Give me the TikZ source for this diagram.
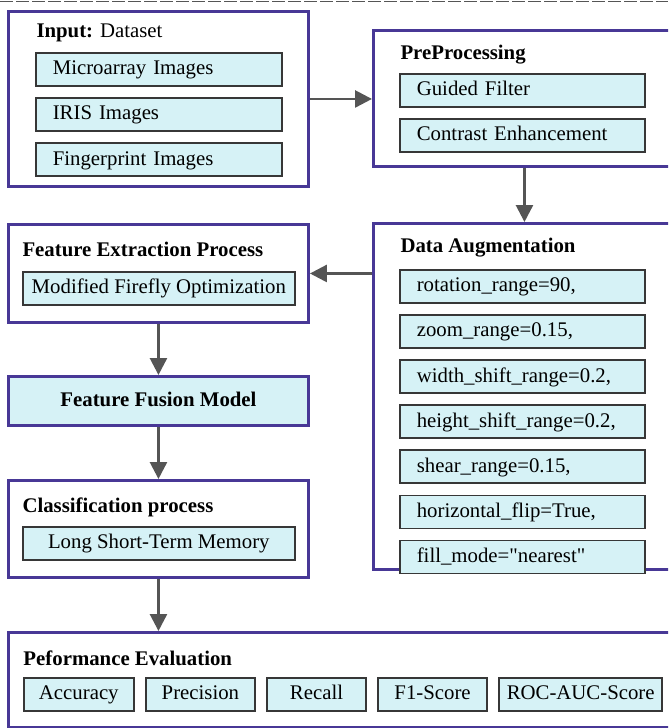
\documentclass[tikz,border=0pt]{standalone}
\usepackage{fontspec}
\setmainfont{Liberation Serif}
\usepackage{xcolor}
\usetikzlibrary{arrows.meta,positioning}
\definecolor{stageblue}{RGB}{72,56,150}
\definecolor{itemcyan}{RGB}{214,242,246}
\definecolor{itemgray}{RGB}{55,55,55}
\definecolor{flowgray}{RGB}{85,85,85}
\newcommand{\boxfont}{\fontsize{15.6}{18}\selectfont}
\tikzset{every picture/.style={line width=0.75pt}}

\begin{document}
\begin{tikzpicture}[x=0.75pt,y=0.75pt,yscale=-1,
  stage/.style={draw=stageblue, line width=2.2pt, fill=white, anchor=north west, inner sep=0pt},
  stagetitle/.style={anchor=base west, inner sep=0pt, font=\boxfont\bfseries},
  item/.style={draw=itemgray, line width=1.2pt, fill=itemcyan, inner sep=0pt, minimum height=24.75pt, text height=11.25pt, text depth=3pt, font=\boxfont},
  leftitem/.style={item, inner xsep=12.75pt, text width=#1, align=left},
  stack/.style={below=7.875pt of #1},
  flow/.style={draw=flowgray, line width=2pt, -{Triangle[length=12.75pt,width=12.75pt]}}
]
\clip (0,0) rectangle (668,728);

%top edge
\draw [flowgray, line width=1pt, dash pattern=on 10pt off 2pt] (0,1.5) -- (668,1.5);

%Input
\node [stage, minimum width=225pt, minimum height=131.25pt] (input) at (7,10) {};
\node [stagetitle] (inputTitle) at (36,37.5) {Input: \mdseries Dataset};
\node [leftitem=159pt, anchor=north west] (inMicro) at (35,52) {Microarray Images};
\node [leftitem=159pt, stack=inMicro] (inIris) {IRIS Images};
\node [leftitem=159pt, stack=inIris] (inFinger) {Fingerprint Images};

%PreProcessing
\node [stage, minimum width=226.5pt, minimum height=102pt] (prep) at (372,29) {};
\node [stagetitle] (prepTitle) at (400,59) {PreProcessing};
\node [leftitem=158.25pt, anchor=north west] (prepGuided) at (399,73) {Guided Filter};
\node [leftitem=158.25pt, stack=prepGuided] (prepContrast) {Contrast Enhancement};

%Data Augmentation
\node [stage, minimum width=226.5pt, minimum height=259.5pt] (aug) at (372,222) {};
\node [stagetitle] (augTitle) at (400,252) {Data Augmentation};
\node [leftitem=158.25pt, anchor=north west] (augRot) at (399,269) {rotation\_range=90,};
\node [leftitem=158.25pt, stack=augRot] (augZoom) {zoom\_range=0.15,};
\node [leftitem=158.25pt, stack=augZoom] (augWidth) {width\_shift\_range=0.2,};
\node [leftitem=158.25pt, stack=augWidth] (augHeight) {height\_shift\_range=0.2,};
\node [leftitem=158.25pt, stack=augHeight] (augShear) {shear\_range=0.15,};
\node [leftitem=158.25pt, stack=augShear] (augFlip) {horizontal\_flip=True,};
\node [leftitem=158.25pt, stack=augFlip] (augFill) {fill\_mode=\textquotedbl nearest\textquotedbl};

%Feature Extraction
\node [stage, minimum width=225pt, minimum height=73.5pt] (feat) at (7,223) {};
\node [stagetitle] (featTitle) at (22,256) {Feature Extraction Process};
\node [item, minimum width=204pt, anchor=north west] (featFirefly) at (22,271) {Modified Firefly Optimization};

%Feature Fusion
\node [stage, fill=itemcyan, minimum width=225pt, minimum height=36.75pt, font=\boxfont\bfseries, text height=11.25pt, text depth=3pt] (fusion) at (7,375) {Feature Fusion Model};

%Classification
\node [stage, minimum width=225pt, minimum height=72.75pt] (cls) at (7,479) {};
\node [stagetitle] (clsTitle) at (22,512) {Classification process};
\node [item, minimum width=204pt, anchor=north west] (clsLstm) at (22,526) {Long Short-Term Memory};

%Performance Evaluation
\node [stage, minimum width=504.75pt, minimum height=71.25pt] (perf) at (7,631) {};
\node [stagetitle] (perfTitle) at (23,665) {Peformance Evaluation};
\node [item, minimum width=82.5pt, anchor=north west] (perfAcc) at (23,677) {Accuracy};
\node [item, minimum width=81.75pt, right=7.875pt of perfAcc] (perfPrec) {Precision};
\node [item, minimum width=74.25pt, right=7.875pt of perfPrec] (perfRecall) {Recall};
\node [item, minimum width=81.75pt, right=7.875pt of perfRecall] (perfF1) {F1-Score};
\node [item, minimum width=122.25pt, right=7.875pt of perfF1] (perfRoc) {ROC-AUC-Score};

%Flow arrows
\draw [flow] (input.east) -- (input.east -| prep.west);
\draw [flow] (prep.south) -- (aug.north);
\draw [flow] (aug.west |- feat.east) -- (feat.east);
\draw [flow] (feat.south) -- (fusion.north);
\draw [flow] (fusion.south) -- (cls.north);
\draw [flow] (cls.south) -- (cls.south |- perf.north);

\end{tikzpicture}
\end{document}
